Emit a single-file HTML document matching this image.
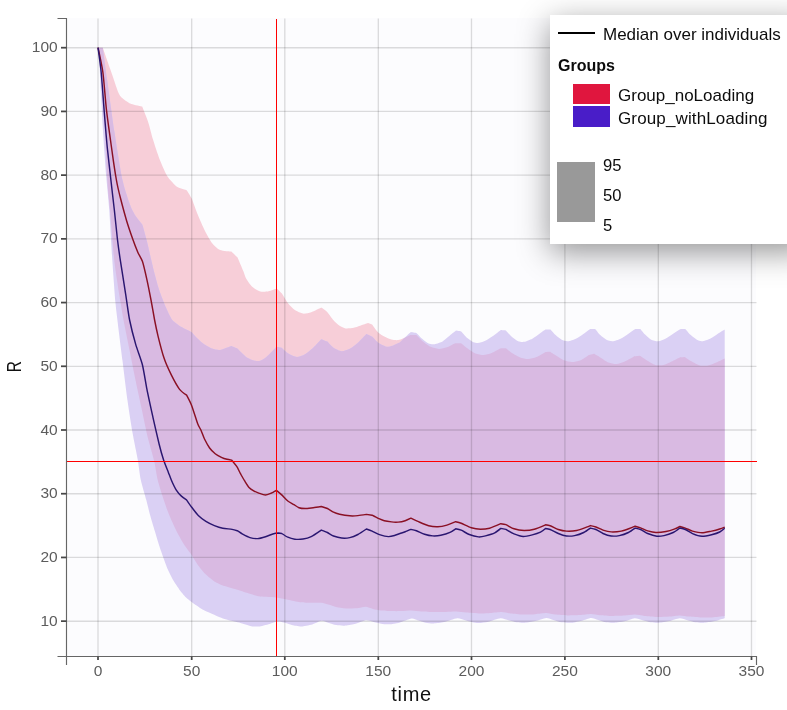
<!DOCTYPE html>
<html lang="en">
<head>
<meta charset="utf-8">
<title>Prediction distribution: R vs time</title>
<style>
html,body{margin:0;padding:0;background:#fff;}
body{width:787px;height:710px;position:relative;overflow:hidden;font-family:"Liberation Sans",sans-serif;}
#chart{position:absolute;left:0;top:0;display:block;}
#legend{position:absolute;left:550px;top:15px;width:260px;height:229.3px;background:#fff;box-shadow:0 8px 30px rgba(0,0,0,.42);color:#0c0c0c;font-size:17px;}
#legend div,#legend span{position:absolute;white-space:nowrap;}
.lbl{line-height:20px;}
.sw{display:block;}
</style>
</head>
<body>
<svg id="chart" width="787" height="710" viewBox="0 0 787 710">
<rect x="68" y="18" width="688" height="638" fill="#fcfcfe"/>
<defs><clipPath id="cb"><path d="M98.0 47.7C98.0 47.7 102.5 47.7 102.5 47.7C102.5 47.7 102.8 47.8 102.8 47.8C102.8 47.8 105.9 70.9 107.3 80.7C108.7 90.5 112.6 119.9 114.4 131.5C116.2 143.1 120.6 171.3 122.5 180.0C124.4 188.7 129.0 202.0 130.7 206.4C132.4 210.8 135.4 215.5 136.8 217.6C138.2 219.7 142.4 224.7 142.4 224.7C142.4 224.7 145.7 236.0 146.9 241.0C148.1 246.0 151.6 261.7 153.0 267.4C154.4 273.1 157.6 285.1 159.1 289.8C160.6 294.5 164.7 304.6 166.2 308.1C167.7 311.6 170.5 317.8 172.3 320.0C174.1 322.2 179.2 325.7 181.5 327.1C183.8 328.5 191.6 332.2 191.6 332.2C191.6 332.2 199.4 340.5 201.8 342.4C204.2 344.3 209.9 347.6 212.0 348.5C214.1 349.4 217.8 350.2 220.1 349.9C222.4 349.6 231.3 346.0 231.3 346.0C231.3 346.0 237.4 348.5 237.4 348.5C237.4 348.5 242.5 353.6 243.5 354.6C244.5 355.6 245.1 356.3 246.1 356.9C247.1 357.5 250.7 359.4 252.2 359.9C253.7 360.4 257.6 361.4 259.3 361.0C261.0 360.6 264.4 358.6 266.4 356.9C268.4 355.2 276.6 346.7 276.6 346.7C276.6 346.7 281.7 347.7 281.7 347.7C281.7 347.7 287.0 352.7 288.8 353.8C290.6 354.9 295.0 356.9 296.9 356.9C298.8 356.9 303.1 355.3 305.0 354.2C306.9 353.1 311.3 349.4 313.2 347.7C315.1 345.9 321.3 339.2 321.3 339.2C321.3 339.2 327.4 341.6 327.4 341.6C327.4 341.6 331.8 346.6 333.5 347.7C335.2 348.8 339.7 351.1 341.6 351.2C343.5 351.3 347.9 349.8 349.8 348.8C351.7 347.8 356.0 344.4 357.9 342.7C359.8 341.0 366.4 333.9 366.4 333.9C366.4 333.9 372.1 336.6 372.1 336.6C372.1 336.6 376.5 341.5 378.2 342.7C379.9 343.9 384.7 346.3 386.4 346.7C388.1 347.1 390.9 346.2 392.5 345.7C394.1 345.2 398.6 343.2 400.0 342.3C401.4 341.4 402.9 339.3 404.2 338.1C405.5 336.9 410.9 332.0 410.9 332.0C410.9 332.0 416.4 333.0 416.4 333.0C416.4 333.0 421.1 337.9 422.5 339.1C423.9 340.3 427.2 343.0 428.6 343.6C430.0 344.2 433.0 344.5 434.7 344.2C436.4 343.9 441.0 342.3 442.9 341.2C444.8 340.1 449.5 335.8 451.0 334.6C452.5 333.4 456.1 330.6 456.1 330.6C456.1 330.6 461.2 331.4 461.2 331.4C461.2 331.4 465.9 336.8 467.3 338.1C468.7 339.4 472.0 341.7 473.4 342.2C474.8 342.7 477.8 343.1 479.5 342.8C481.2 342.5 485.7 340.5 487.6 339.5C489.5 338.5 494.2 335.1 495.7 334.0C497.2 332.9 500.8 330.0 500.8 330.0C500.8 330.0 505.9 330.4 505.9 330.4C505.9 330.4 510.6 335.8 512.0 337.1C513.4 338.4 516.7 340.7 518.1 341.2C519.5 341.7 522.5 342.1 524.2 341.8C525.9 341.5 530.4 339.7 532.3 338.7C534.2 337.7 539.0 334.1 540.5 333.0C542.0 331.9 545.5 329.6 545.5 329.6C545.5 329.6 550.5 329.6 550.5 329.6C550.5 329.6 554.3 333.9 555.6 335.1C556.9 336.3 560.3 339.0 561.7 339.7C563.1 340.4 566.1 341.3 567.8 341.2C569.5 341.1 574.1 339.6 576.0 338.7C577.9 337.8 582.4 334.5 584.1 333.4C585.8 332.3 590.2 329.0 590.2 329.0C590.2 329.0 595.2 329.0 595.2 329.0C595.2 329.0 599.0 333.9 600.3 335.1C601.6 336.3 605.0 339.0 606.4 339.7C607.8 340.4 610.8 341.3 612.5 341.2C614.2 341.1 618.8 339.6 620.7 338.7C622.6 337.8 627.1 334.5 628.8 333.4C630.5 332.3 635.3 329.0 635.3 329.0C635.3 329.0 640.4 329.0 640.4 329.0C640.4 329.0 643.8 333.4 645.1 334.6C646.4 335.8 649.7 338.9 651.2 339.7C652.7 340.5 656.6 341.3 658.3 341.2C660.0 341.1 663.6 339.6 665.4 338.7C667.2 337.8 671.7 334.5 673.5 333.4C675.3 332.3 680.6 329.0 680.6 329.0C680.6 329.0 685.3 329.0 685.3 329.0C685.3 329.0 689.4 333.9 690.8 335.1C692.2 336.3 695.6 339.0 696.9 339.7C698.2 340.4 700.5 341.3 702.0 341.2C703.5 341.1 708.2 339.6 710.1 338.7C712.0 337.8 716.5 334.5 718.2 333.4C719.9 332.3 724.7 329.4 724.7 329.4L724.7 618.2C724.7 618.2 716.2 620.8 713.8 621.3C711.3 621.8 705.8 622.6 703.7 622.7C701.6 622.8 697.4 622.6 695.5 622.3C693.6 622.0 689.2 620.8 687.4 620.3C685.6 619.8 681.8 618.1 679.7 618.2C677.6 618.3 671.5 620.6 669.1 621.1C666.7 621.6 661.1 622.6 659.0 622.7C656.9 622.8 652.7 622.6 650.8 622.3C648.9 622.0 644.6 620.8 642.7 620.3C640.8 619.8 636.7 618.1 634.6 618.2C632.5 618.3 626.9 620.8 624.5 621.3C622.1 621.8 616.4 622.6 614.3 622.7C612.2 622.8 608.1 622.6 606.2 622.3C604.3 622.0 599.9 620.5 598.1 620.0C596.3 619.5 592.9 617.9 591.0 618.0C589.1 618.1 584.1 620.2 581.8 620.7C579.5 621.2 574.0 622.5 571.6 622.7C569.2 622.9 563.6 622.6 561.5 622.3C559.4 622.0 555.1 620.5 553.3 620.0C551.5 619.5 548.3 617.9 546.2 618.0C544.1 618.1 537.6 620.6 535.1 621.1C532.6 621.6 527.0 622.6 524.9 622.7C522.8 622.8 518.7 622.6 516.8 622.3C514.9 622.0 510.5 620.8 508.6 620.3C506.7 619.8 502.9 618.0 500.5 618.2C498.1 618.4 490.8 621.1 488.3 621.7C485.8 622.3 480.8 622.9 479.0 623.0C477.2 623.1 474.2 622.6 472.5 622.3C470.8 621.9 466.1 620.5 464.3 620.0C462.5 619.5 459.6 618.0 457.2 618.2C454.8 618.4 446.7 621.5 444.0 622.1C441.3 622.7 435.9 623.4 433.8 623.5C431.7 623.6 427.6 623.1 425.7 622.7C423.8 622.3 419.3 620.8 417.6 620.3C415.9 619.8 413.6 618.3 411.5 618.6C409.4 618.9 401.9 622.0 399.3 622.7C396.7 623.4 391.2 624.2 389.1 624.3C387.0 624.4 382.9 624.0 381.0 623.7C379.1 623.4 374.7 622.1 372.9 621.7C371.1 621.3 367.8 620.0 365.7 620.3C363.6 620.6 357.1 623.5 354.6 624.1C352.1 624.7 346.5 625.6 344.4 625.7C342.3 625.8 338.2 625.5 336.3 625.1C334.4 624.8 329.8 623.2 328.1 622.7C326.4 622.2 323.3 620.6 321.5 620.8C319.7 621.0 314.6 623.8 312.3 624.5C310.0 625.2 302.1 626.6 302.1 626.6C302.1 626.6 296.1 626.0 294.0 625.5C291.9 625.0 285.7 623.0 283.8 622.5C281.9 622.0 279.4 621.3 277.7 621.5C276.0 621.7 271.7 623.3 269.6 623.9C267.5 624.5 259.5 626.6 259.5 626.6C259.5 626.6 253.7 626.7 251.3 626.2C248.9 625.7 242.4 623.4 239.1 622.5C235.8 621.6 226.7 619.7 222.9 618.4C219.1 617.1 209.1 612.6 206.6 611.5C204.1 610.4 203.0 609.9 201.3 608.8C199.6 607.7 193.8 603.7 192.0 602.3C190.2 600.9 187.2 598.6 185.8 597.2C184.4 595.8 181.0 591.8 179.6 589.9C178.2 588.0 174.8 582.9 173.4 580.6C172.0 578.3 169.2 572.5 168.0 569.8C166.8 567.1 164.3 560.1 163.3 557.4C162.3 554.7 160.5 549.6 159.5 546.5C158.5 543.4 155.9 534.6 154.8 531.0C153.7 527.4 151.2 519.1 150.2 515.5C149.2 511.9 147.4 504.1 146.3 500.0C145.2 495.9 141.8 484.7 140.8 480.0C139.8 475.3 138.7 465.4 137.8 460.0C136.9 454.6 133.9 440.6 132.7 433.8C131.5 427.0 128.8 409.8 127.6 401.3C126.4 392.8 123.7 370.2 122.5 360.7C121.3 351.2 118.2 326.8 117.4 320.0C116.6 313.2 116.0 308.8 115.4 302.0C114.8 295.2 113.1 272.0 112.4 261.3C111.7 250.6 110.0 220.3 109.3 210.5C108.6 200.7 107.0 185.4 106.3 177.0C105.6 168.6 103.9 144.7 103.5 138.6C103.1 132.5 102.8 127.8 102.6 124.5C102.4 121.2 102.1 114.5 101.9 110.4C101.7 106.3 101.0 94.2 100.7 89.3C100.4 84.4 100.0 73.1 99.7 68.2C99.4 63.3 98.0 47.7 98.0 47.7Z"/></clipPath></defs>
<path d="M98.0 47.7C98.0 47.7 102.5 47.7 102.5 47.7C102.5 47.7 102.8 47.8 102.8 47.8C102.8 47.8 108.4 63.9 110.3 69.2C112.2 74.5 117.2 90.0 118.8 93.5C120.4 97.0 122.2 98.0 123.7 99.2C125.2 100.4 129.2 103.2 131.4 104.1C133.6 105.0 142.2 106.6 142.2 106.6C142.2 106.6 146.6 117.5 147.9 121.3C149.2 125.1 151.7 135.3 153.0 139.6C154.3 143.9 157.6 153.9 159.1 157.9C160.6 161.9 164.9 171.6 166.2 174.2C167.5 176.8 169.0 178.5 170.3 180.0C171.6 181.5 175.5 185.9 177.4 187.1C179.3 188.3 186.6 190.2 186.6 190.2C186.6 190.2 190.3 195.5 191.6 198.3C192.9 201.1 196.1 210.8 197.7 214.6C199.3 218.4 203.2 227.5 204.9 230.8C206.6 234.1 210.2 240.7 212.0 243.0C213.8 245.3 217.8 249.1 220.1 250.1C222.4 251.1 231.3 251.6 231.3 251.6C231.3 251.6 237.4 257.3 237.4 257.3C237.4 257.3 242.5 269.0 243.5 271.5C244.5 274.0 245.1 276.8 246.1 278.6C247.1 280.4 250.5 285.3 252.2 286.8C253.9 288.3 258.4 290.9 260.3 291.4C262.2 291.9 266.6 291.6 268.5 291.2C270.4 290.8 276.6 288.4 276.6 288.4C276.6 288.4 280.4 291.6 281.7 293.3C283.0 295.0 286.3 301.0 287.8 303.0C289.3 305.0 293.1 308.9 294.9 310.1C296.7 311.3 301.1 313.4 303.0 313.6C304.9 313.8 309.1 312.9 311.2 312.2C313.3 311.5 321.3 307.5 321.3 307.5C321.3 307.5 326.0 310.7 327.4 312.2C328.8 313.7 332.1 318.7 333.5 320.3C334.9 321.9 338.2 324.9 339.6 325.8C341.0 326.7 344.0 328.2 345.7 328.4C347.4 328.6 351.9 328.2 353.8 327.8C355.7 327.4 360.3 325.6 362.0 325.0C363.7 324.4 368.1 322.9 368.1 322.9C368.1 322.9 372.1 324.4 372.1 324.4C372.1 324.4 376.8 331.1 378.2 332.5C379.6 333.9 382.7 335.8 384.3 336.6C385.9 337.4 389.9 339.2 391.5 339.6C393.1 340.0 396.6 340.3 398.1 340.1C399.6 339.9 402.8 338.7 404.2 338.1C405.6 337.5 410.3 335.1 410.3 335.1C410.3 335.1 416.4 335.1 416.4 335.1C416.4 335.1 420.8 339.8 422.5 341.2C424.2 342.6 428.8 345.9 430.7 346.8C432.6 347.7 436.9 348.8 438.8 348.9C440.7 349.0 445.0 348.0 446.9 347.3C448.8 346.6 455.1 343.2 455.1 343.2C455.1 343.2 461.2 343.2 461.2 343.2C461.2 343.2 465.6 347.1 467.3 348.3C469.0 349.5 473.5 352.6 475.4 353.4C477.3 354.2 481.6 355.0 483.5 355.0C485.4 355.0 489.7 353.8 491.7 353.0C493.7 352.2 500.8 348.3 500.8 348.3C500.8 348.3 505.9 348.3 505.9 348.3C505.9 348.3 510.3 351.9 512.0 353.0C513.7 354.1 518.2 356.7 520.1 357.4C522.0 358.1 526.3 359.0 528.2 359.0C530.1 359.0 534.4 357.8 536.4 357.0C538.4 356.2 545.5 351.9 545.5 351.9C545.5 351.9 550.0 351.7 550.0 351.7C550.0 351.7 554.4 354.5 556.0 355.5C557.6 356.5 562.1 359.5 564.0 360.3C565.9 361.1 570.1 362.0 572.0 362.0C573.9 362.0 578.1 361.3 580.0 360.5C581.9 359.7 588.1 355.4 588.1 355.4C588.1 355.4 594.2 353.8 594.2 353.8C594.2 353.8 598.6 356.4 600.3 357.4C602.0 358.4 606.6 361.7 608.5 362.5C610.4 363.3 614.7 364.2 616.6 364.1C618.5 364.0 622.7 362.4 624.7 361.5C626.7 360.6 633.9 356.4 633.9 356.4C633.9 356.4 640.0 355.8 640.0 355.8C640.0 355.8 645.3 359.4 647.1 360.5C648.9 361.6 653.3 364.4 655.2 364.9C657.1 365.4 661.5 365.5 663.4 365.1C665.3 364.7 669.6 362.4 671.5 361.5C673.4 360.6 679.6 357.4 679.6 357.4C679.6 357.4 684.7 357.0 684.7 357.0C684.7 357.0 690.0 360.5 691.8 361.5C693.6 362.5 698.0 365.0 699.9 365.5C701.8 366.0 706.2 365.9 708.1 365.5C710.0 365.1 714.3 363.3 716.2 362.5C718.1 361.7 724.7 358.4 724.7 358.4L724.7 616.0C724.7 616.0 716.5 617.0 713.8 617.2C711.1 617.4 704.4 617.7 701.6 617.6C698.8 617.5 692.0 616.9 689.4 616.6C686.8 616.3 682.1 615.4 679.7 615.4C677.3 615.4 671.8 616.4 669.1 616.6C666.4 616.8 659.7 617.1 656.9 617.0C654.1 616.9 647.3 616.3 644.7 616.0C642.1 615.7 637.0 614.6 634.6 614.6C632.2 614.6 627.0 615.4 624.4 615.6C621.8 615.8 615.1 616.0 612.3 616.0C609.5 616.0 602.6 615.4 600.1 615.2C597.6 615.0 593.4 613.9 591.0 613.9C588.6 613.9 582.5 614.8 579.8 615.0C577.1 615.2 570.4 615.4 567.6 615.4C564.8 615.4 557.9 614.9 555.4 614.6C552.9 614.3 548.6 613.1 546.2 613.1C543.8 613.1 537.8 614.0 535.1 614.2C532.4 614.4 525.7 614.7 522.9 614.6C520.1 614.5 513.2 613.8 510.7 613.5C508.2 613.2 503.9 612.1 501.5 612.1C499.1 612.1 492.8 612.9 490.3 613.1C487.8 613.3 483.0 613.6 480.2 613.5C477.4 613.4 469.2 612.7 466.4 612.5C463.6 612.3 458.6 611.6 456.2 611.5C453.8 611.4 448.6 611.8 446.0 611.9C443.4 612.0 436.6 612.1 433.8 612.1C431.0 612.1 424.2 611.7 421.6 611.5C419.0 611.3 413.9 610.5 411.5 610.5C409.1 610.5 403.7 611.0 401.3 611.1C398.9 611.2 393.6 611.2 391.2 611.1C388.8 611.0 383.1 610.8 381.0 610.5C378.9 610.2 374.7 609.3 372.9 608.9C371.1 608.5 367.4 606.9 365.7 606.8C364.0 606.7 360.6 607.9 358.6 608.1C356.6 608.3 350.9 608.6 348.5 608.5C346.1 608.4 340.7 607.9 338.3 607.4C335.9 606.9 330.1 604.9 328.1 604.4C326.1 603.9 323.3 603.0 321.5 602.8C319.7 602.6 314.8 602.9 312.3 602.8C309.8 602.7 302.9 602.6 300.1 602.2C297.3 601.8 290.5 600.2 287.9 599.7C285.3 599.2 281.0 598.1 277.7 597.7C274.4 597.3 263.4 597.1 260.0 596.6C256.6 596.1 251.0 594.0 248.2 593.2C245.4 592.4 239.1 590.3 236.3 589.5C233.5 588.7 227.1 587.0 224.5 586.1C221.9 585.2 216.7 582.8 214.4 581.4C212.1 580.0 207.1 575.8 205.1 573.8C203.1 571.8 199.1 566.7 197.5 564.5C195.9 562.3 193.1 557.2 191.5 554.8C189.9 552.4 185.7 547.0 183.9 544.2C182.1 541.4 178.1 534.2 176.3 530.7C174.5 527.2 170.3 517.7 168.7 513.8C167.1 509.9 164.1 500.8 162.8 496.9C161.5 493.0 158.7 484.1 157.7 480.0C156.7 475.9 155.4 466.4 154.3 461.5C153.2 456.6 149.4 444.0 147.9 437.9C146.4 431.8 143.2 416.0 141.8 409.4C140.4 402.8 137.1 387.9 135.7 381.0C134.3 374.1 131.0 357.6 129.6 350.5C128.2 343.4 124.6 325.7 123.5 320.0C122.4 314.3 121.6 308.8 120.5 302.0C119.4 295.2 115.6 272.0 114.4 261.3C113.2 250.6 110.8 219.5 110.0 210.0C109.2 200.5 108.2 195.2 107.3 180.0C106.4 164.8 103.6 95.4 102.5 80.0C101.4 64.6 98.0 47.7 98.0 47.7Z" fill="#f7ced8"/>
<path d="M98.0 47.7C98.0 47.7 102.5 47.7 102.5 47.7C102.5 47.7 102.8 47.8 102.8 47.8C102.8 47.8 105.9 70.9 107.3 80.7C108.7 90.5 112.6 119.9 114.4 131.5C116.2 143.1 120.6 171.3 122.5 180.0C124.4 188.7 129.0 202.0 130.7 206.4C132.4 210.8 135.4 215.5 136.8 217.6C138.2 219.7 142.4 224.7 142.4 224.7C142.4 224.7 145.7 236.0 146.9 241.0C148.1 246.0 151.6 261.7 153.0 267.4C154.4 273.1 157.6 285.1 159.1 289.8C160.6 294.5 164.7 304.6 166.2 308.1C167.7 311.6 170.5 317.8 172.3 320.0C174.1 322.2 179.2 325.7 181.5 327.1C183.8 328.5 191.6 332.2 191.6 332.2C191.6 332.2 199.4 340.5 201.8 342.4C204.2 344.3 209.9 347.6 212.0 348.5C214.1 349.4 217.8 350.2 220.1 349.9C222.4 349.6 231.3 346.0 231.3 346.0C231.3 346.0 237.4 348.5 237.4 348.5C237.4 348.5 242.5 353.6 243.5 354.6C244.5 355.6 245.1 356.3 246.1 356.9C247.1 357.5 250.7 359.4 252.2 359.9C253.7 360.4 257.6 361.4 259.3 361.0C261.0 360.6 264.4 358.6 266.4 356.9C268.4 355.2 276.6 346.7 276.6 346.7C276.6 346.7 281.7 347.7 281.7 347.7C281.7 347.7 287.0 352.7 288.8 353.8C290.6 354.9 295.0 356.9 296.9 356.9C298.8 356.9 303.1 355.3 305.0 354.2C306.9 353.1 311.3 349.4 313.2 347.7C315.1 345.9 321.3 339.2 321.3 339.2C321.3 339.2 327.4 341.6 327.4 341.6C327.4 341.6 331.8 346.6 333.5 347.7C335.2 348.8 339.7 351.1 341.6 351.2C343.5 351.3 347.9 349.8 349.8 348.8C351.7 347.8 356.0 344.4 357.9 342.7C359.8 341.0 366.4 333.9 366.4 333.9C366.4 333.9 372.1 336.6 372.1 336.6C372.1 336.6 376.5 341.5 378.2 342.7C379.9 343.9 384.7 346.3 386.4 346.7C388.1 347.1 390.9 346.2 392.5 345.7C394.1 345.2 398.6 343.2 400.0 342.3C401.4 341.4 402.9 339.3 404.2 338.1C405.5 336.9 410.9 332.0 410.9 332.0C410.9 332.0 416.4 333.0 416.4 333.0C416.4 333.0 421.1 337.9 422.5 339.1C423.9 340.3 427.2 343.0 428.6 343.6C430.0 344.2 433.0 344.5 434.7 344.2C436.4 343.9 441.0 342.3 442.9 341.2C444.8 340.1 449.5 335.8 451.0 334.6C452.5 333.4 456.1 330.6 456.1 330.6C456.1 330.6 461.2 331.4 461.2 331.4C461.2 331.4 465.9 336.8 467.3 338.1C468.7 339.4 472.0 341.7 473.4 342.2C474.8 342.7 477.8 343.1 479.5 342.8C481.2 342.5 485.7 340.5 487.6 339.5C489.5 338.5 494.2 335.1 495.7 334.0C497.2 332.9 500.8 330.0 500.8 330.0C500.8 330.0 505.9 330.4 505.9 330.4C505.9 330.4 510.6 335.8 512.0 337.1C513.4 338.4 516.7 340.7 518.1 341.2C519.5 341.7 522.5 342.1 524.2 341.8C525.9 341.5 530.4 339.7 532.3 338.7C534.2 337.7 539.0 334.1 540.5 333.0C542.0 331.9 545.5 329.6 545.5 329.6C545.5 329.6 550.5 329.6 550.5 329.6C550.5 329.6 554.3 333.9 555.6 335.1C556.9 336.3 560.3 339.0 561.7 339.7C563.1 340.4 566.1 341.3 567.8 341.2C569.5 341.1 574.1 339.6 576.0 338.7C577.9 337.8 582.4 334.5 584.1 333.4C585.8 332.3 590.2 329.0 590.2 329.0C590.2 329.0 595.2 329.0 595.2 329.0C595.2 329.0 599.0 333.9 600.3 335.1C601.6 336.3 605.0 339.0 606.4 339.7C607.8 340.4 610.8 341.3 612.5 341.2C614.2 341.1 618.8 339.6 620.7 338.7C622.6 337.8 627.1 334.5 628.8 333.4C630.5 332.3 635.3 329.0 635.3 329.0C635.3 329.0 640.4 329.0 640.4 329.0C640.4 329.0 643.8 333.4 645.1 334.6C646.4 335.8 649.7 338.9 651.2 339.7C652.7 340.5 656.6 341.3 658.3 341.2C660.0 341.1 663.6 339.6 665.4 338.7C667.2 337.8 671.7 334.5 673.5 333.4C675.3 332.3 680.6 329.0 680.6 329.0C680.6 329.0 685.3 329.0 685.3 329.0C685.3 329.0 689.4 333.9 690.8 335.1C692.2 336.3 695.6 339.0 696.9 339.7C698.2 340.4 700.5 341.3 702.0 341.2C703.5 341.1 708.2 339.6 710.1 338.7C712.0 337.8 716.5 334.5 718.2 333.4C719.9 332.3 724.7 329.4 724.7 329.4L724.7 618.2C724.7 618.2 716.2 620.8 713.8 621.3C711.3 621.8 705.8 622.6 703.7 622.7C701.6 622.8 697.4 622.6 695.5 622.3C693.6 622.0 689.2 620.8 687.4 620.3C685.6 619.8 681.8 618.1 679.7 618.2C677.6 618.3 671.5 620.6 669.1 621.1C666.7 621.6 661.1 622.6 659.0 622.7C656.9 622.8 652.7 622.6 650.8 622.3C648.9 622.0 644.6 620.8 642.7 620.3C640.8 619.8 636.7 618.1 634.6 618.2C632.5 618.3 626.9 620.8 624.5 621.3C622.1 621.8 616.4 622.6 614.3 622.7C612.2 622.8 608.1 622.6 606.2 622.3C604.3 622.0 599.9 620.5 598.1 620.0C596.3 619.5 592.9 617.9 591.0 618.0C589.1 618.1 584.1 620.2 581.8 620.7C579.5 621.2 574.0 622.5 571.6 622.7C569.2 622.9 563.6 622.6 561.5 622.3C559.4 622.0 555.1 620.5 553.3 620.0C551.5 619.5 548.3 617.9 546.2 618.0C544.1 618.1 537.6 620.6 535.1 621.1C532.6 621.6 527.0 622.6 524.9 622.7C522.8 622.8 518.7 622.6 516.8 622.3C514.9 622.0 510.5 620.8 508.6 620.3C506.7 619.8 502.9 618.0 500.5 618.2C498.1 618.4 490.8 621.1 488.3 621.7C485.8 622.3 480.8 622.9 479.0 623.0C477.2 623.1 474.2 622.6 472.5 622.3C470.8 621.9 466.1 620.5 464.3 620.0C462.5 619.5 459.6 618.0 457.2 618.2C454.8 618.4 446.7 621.5 444.0 622.1C441.3 622.7 435.9 623.4 433.8 623.5C431.7 623.6 427.6 623.1 425.7 622.7C423.8 622.3 419.3 620.8 417.6 620.3C415.9 619.8 413.6 618.3 411.5 618.6C409.4 618.9 401.9 622.0 399.3 622.7C396.7 623.4 391.2 624.2 389.1 624.3C387.0 624.4 382.9 624.0 381.0 623.7C379.1 623.4 374.7 622.1 372.9 621.7C371.1 621.3 367.8 620.0 365.7 620.3C363.6 620.6 357.1 623.5 354.6 624.1C352.1 624.7 346.5 625.6 344.4 625.7C342.3 625.8 338.2 625.5 336.3 625.1C334.4 624.8 329.8 623.2 328.1 622.7C326.4 622.2 323.3 620.6 321.5 620.8C319.7 621.0 314.6 623.8 312.3 624.5C310.0 625.2 302.1 626.6 302.1 626.6C302.1 626.6 296.1 626.0 294.0 625.5C291.9 625.0 285.7 623.0 283.8 622.5C281.9 622.0 279.4 621.3 277.7 621.5C276.0 621.7 271.7 623.3 269.6 623.9C267.5 624.5 259.5 626.6 259.5 626.6C259.5 626.6 253.7 626.7 251.3 626.2C248.9 625.7 242.4 623.4 239.1 622.5C235.8 621.6 226.7 619.7 222.9 618.4C219.1 617.1 209.1 612.6 206.6 611.5C204.1 610.4 203.0 609.9 201.3 608.8C199.6 607.7 193.8 603.7 192.0 602.3C190.2 600.9 187.2 598.6 185.8 597.2C184.4 595.8 181.0 591.8 179.6 589.9C178.2 588.0 174.8 582.9 173.4 580.6C172.0 578.3 169.2 572.5 168.0 569.8C166.8 567.1 164.3 560.1 163.3 557.4C162.3 554.7 160.5 549.6 159.5 546.5C158.5 543.4 155.9 534.6 154.8 531.0C153.7 527.4 151.2 519.1 150.2 515.5C149.2 511.9 147.4 504.1 146.3 500.0C145.2 495.9 141.8 484.7 140.8 480.0C139.8 475.3 138.7 465.4 137.8 460.0C136.9 454.6 133.9 440.6 132.7 433.8C131.5 427.0 128.8 409.8 127.6 401.3C126.4 392.8 123.7 370.2 122.5 360.7C121.3 351.2 118.2 326.8 117.4 320.0C116.6 313.2 116.0 308.8 115.4 302.0C114.8 295.2 113.1 272.0 112.4 261.3C111.7 250.6 110.0 220.3 109.3 210.5C108.6 200.7 107.0 185.4 106.3 177.0C105.6 168.6 103.9 144.7 103.5 138.6C103.1 132.5 102.8 127.8 102.6 124.5C102.4 121.2 102.1 114.5 101.9 110.4C101.7 106.3 101.0 94.2 100.7 89.3C100.4 84.4 100.0 73.1 99.7 68.2C99.4 63.3 98.0 47.7 98.0 47.7Z" fill="#dad0f4"/>
<path d="M98.0 47.7C98.0 47.7 102.5 47.7 102.5 47.7C102.5 47.7 102.8 47.8 102.8 47.8C102.8 47.8 108.4 63.9 110.3 69.2C112.2 74.5 117.2 90.0 118.8 93.5C120.4 97.0 122.2 98.0 123.7 99.2C125.2 100.4 129.2 103.2 131.4 104.1C133.6 105.0 142.2 106.6 142.2 106.6C142.2 106.6 146.6 117.5 147.9 121.3C149.2 125.1 151.7 135.3 153.0 139.6C154.3 143.9 157.6 153.9 159.1 157.9C160.6 161.9 164.9 171.6 166.2 174.2C167.5 176.8 169.0 178.5 170.3 180.0C171.6 181.5 175.5 185.9 177.4 187.1C179.3 188.3 186.6 190.2 186.6 190.2C186.6 190.2 190.3 195.5 191.6 198.3C192.9 201.1 196.1 210.8 197.7 214.6C199.3 218.4 203.2 227.5 204.9 230.8C206.6 234.1 210.2 240.7 212.0 243.0C213.8 245.3 217.8 249.1 220.1 250.1C222.4 251.1 231.3 251.6 231.3 251.6C231.3 251.6 237.4 257.3 237.4 257.3C237.4 257.3 242.5 269.0 243.5 271.5C244.5 274.0 245.1 276.8 246.1 278.6C247.1 280.4 250.5 285.3 252.2 286.8C253.9 288.3 258.4 290.9 260.3 291.4C262.2 291.9 266.6 291.6 268.5 291.2C270.4 290.8 276.6 288.4 276.6 288.4C276.6 288.4 280.4 291.6 281.7 293.3C283.0 295.0 286.3 301.0 287.8 303.0C289.3 305.0 293.1 308.9 294.9 310.1C296.7 311.3 301.1 313.4 303.0 313.6C304.9 313.8 309.1 312.9 311.2 312.2C313.3 311.5 321.3 307.5 321.3 307.5C321.3 307.5 326.0 310.7 327.4 312.2C328.8 313.7 332.1 318.7 333.5 320.3C334.9 321.9 338.2 324.9 339.6 325.8C341.0 326.7 344.0 328.2 345.7 328.4C347.4 328.6 351.9 328.2 353.8 327.8C355.7 327.4 360.3 325.6 362.0 325.0C363.7 324.4 368.1 322.9 368.1 322.9C368.1 322.9 372.1 324.4 372.1 324.4C372.1 324.4 376.8 331.1 378.2 332.5C379.6 333.9 382.7 335.8 384.3 336.6C385.9 337.4 389.9 339.2 391.5 339.6C393.1 340.0 396.6 340.3 398.1 340.1C399.6 339.9 402.8 338.7 404.2 338.1C405.6 337.5 410.3 335.1 410.3 335.1C410.3 335.1 416.4 335.1 416.4 335.1C416.4 335.1 420.8 339.8 422.5 341.2C424.2 342.6 428.8 345.9 430.7 346.8C432.6 347.7 436.9 348.8 438.8 348.9C440.7 349.0 445.0 348.0 446.9 347.3C448.8 346.6 455.1 343.2 455.1 343.2C455.1 343.2 461.2 343.2 461.2 343.2C461.2 343.2 465.6 347.1 467.3 348.3C469.0 349.5 473.5 352.6 475.4 353.4C477.3 354.2 481.6 355.0 483.5 355.0C485.4 355.0 489.7 353.8 491.7 353.0C493.7 352.2 500.8 348.3 500.8 348.3C500.8 348.3 505.9 348.3 505.9 348.3C505.9 348.3 510.3 351.9 512.0 353.0C513.7 354.1 518.2 356.7 520.1 357.4C522.0 358.1 526.3 359.0 528.2 359.0C530.1 359.0 534.4 357.8 536.4 357.0C538.4 356.2 545.5 351.9 545.5 351.9C545.5 351.9 550.0 351.7 550.0 351.7C550.0 351.7 554.4 354.5 556.0 355.5C557.6 356.5 562.1 359.5 564.0 360.3C565.9 361.1 570.1 362.0 572.0 362.0C573.9 362.0 578.1 361.3 580.0 360.5C581.9 359.7 588.1 355.4 588.1 355.4C588.1 355.4 594.2 353.8 594.2 353.8C594.2 353.8 598.6 356.4 600.3 357.4C602.0 358.4 606.6 361.7 608.5 362.5C610.4 363.3 614.7 364.2 616.6 364.1C618.5 364.0 622.7 362.4 624.7 361.5C626.7 360.6 633.9 356.4 633.9 356.4C633.9 356.4 640.0 355.8 640.0 355.8C640.0 355.8 645.3 359.4 647.1 360.5C648.9 361.6 653.3 364.4 655.2 364.9C657.1 365.4 661.5 365.5 663.4 365.1C665.3 364.7 669.6 362.4 671.5 361.5C673.4 360.6 679.6 357.4 679.6 357.4C679.6 357.4 684.7 357.0 684.7 357.0C684.7 357.0 690.0 360.5 691.8 361.5C693.6 362.5 698.0 365.0 699.9 365.5C701.8 366.0 706.2 365.9 708.1 365.5C710.0 365.1 714.3 363.3 716.2 362.5C718.1 361.7 724.7 358.4 724.7 358.4L724.7 616.0C724.7 616.0 716.5 617.0 713.8 617.2C711.1 617.4 704.4 617.7 701.6 617.6C698.8 617.5 692.0 616.9 689.4 616.6C686.8 616.3 682.1 615.4 679.7 615.4C677.3 615.4 671.8 616.4 669.1 616.6C666.4 616.8 659.7 617.1 656.9 617.0C654.1 616.9 647.3 616.3 644.7 616.0C642.1 615.7 637.0 614.6 634.6 614.6C632.2 614.6 627.0 615.4 624.4 615.6C621.8 615.8 615.1 616.0 612.3 616.0C609.5 616.0 602.6 615.4 600.1 615.2C597.6 615.0 593.4 613.9 591.0 613.9C588.6 613.9 582.5 614.8 579.8 615.0C577.1 615.2 570.4 615.4 567.6 615.4C564.8 615.4 557.9 614.9 555.4 614.6C552.9 614.3 548.6 613.1 546.2 613.1C543.8 613.1 537.8 614.0 535.1 614.2C532.4 614.4 525.7 614.7 522.9 614.6C520.1 614.5 513.2 613.8 510.7 613.5C508.2 613.2 503.9 612.1 501.5 612.1C499.1 612.1 492.8 612.9 490.3 613.1C487.8 613.3 483.0 613.6 480.2 613.5C477.4 613.4 469.2 612.7 466.4 612.5C463.6 612.3 458.6 611.6 456.2 611.5C453.8 611.4 448.6 611.8 446.0 611.9C443.4 612.0 436.6 612.1 433.8 612.1C431.0 612.1 424.2 611.7 421.6 611.5C419.0 611.3 413.9 610.5 411.5 610.5C409.1 610.5 403.7 611.0 401.3 611.1C398.9 611.2 393.6 611.2 391.2 611.1C388.8 611.0 383.1 610.8 381.0 610.5C378.9 610.2 374.7 609.3 372.9 608.9C371.1 608.5 367.4 606.9 365.7 606.8C364.0 606.7 360.6 607.9 358.6 608.1C356.6 608.3 350.9 608.6 348.5 608.5C346.1 608.4 340.7 607.9 338.3 607.4C335.9 606.9 330.1 604.9 328.1 604.4C326.1 603.9 323.3 603.0 321.5 602.8C319.7 602.6 314.8 602.9 312.3 602.8C309.8 602.7 302.9 602.6 300.1 602.2C297.3 601.8 290.5 600.2 287.9 599.7C285.3 599.2 281.0 598.1 277.7 597.7C274.4 597.3 263.4 597.1 260.0 596.6C256.6 596.1 251.0 594.0 248.2 593.2C245.4 592.4 239.1 590.3 236.3 589.5C233.5 588.7 227.1 587.0 224.5 586.1C221.9 585.2 216.7 582.8 214.4 581.4C212.1 580.0 207.1 575.8 205.1 573.8C203.1 571.8 199.1 566.7 197.5 564.5C195.9 562.3 193.1 557.2 191.5 554.8C189.9 552.4 185.7 547.0 183.9 544.2C182.1 541.4 178.1 534.2 176.3 530.7C174.5 527.2 170.3 517.7 168.7 513.8C167.1 509.9 164.1 500.8 162.8 496.9C161.5 493.0 158.7 484.1 157.7 480.0C156.7 475.9 155.4 466.4 154.3 461.5C153.2 456.6 149.4 444.0 147.9 437.9C146.4 431.8 143.2 416.0 141.8 409.4C140.4 402.8 137.1 387.9 135.7 381.0C134.3 374.1 131.0 357.6 129.6 350.5C128.2 343.4 124.6 325.7 123.5 320.0C122.4 314.3 121.6 308.8 120.5 302.0C119.4 295.2 115.6 272.0 114.4 261.3C113.2 250.6 110.8 219.5 110.0 210.0C109.2 200.5 108.2 195.2 107.3 180.0C106.4 164.8 103.6 95.4 102.5 80.0C101.4 64.6 98.0 47.7 98.0 47.7Z" fill="#d9bae2" clip-path="url(#cb)"/>
<g stroke="rgba(0,0,0,0.135)" stroke-width="1.35" fill="none"><line x1="98.0" x2="98.0" y1="18.5" y2="656.5"/><line x1="191.7" x2="191.7" y1="18.5" y2="656.5"/><line x1="284.8" x2="284.8" y1="18.5" y2="656.5"/><line x1="378.3" x2="378.3" y1="18.5" y2="656.5"/><line x1="471.5" x2="471.5" y1="18.5" y2="656.5"/><line x1="564.9" x2="564.9" y1="18.5" y2="656.5"/><line x1="658.3" x2="658.3" y1="18.5" y2="656.5"/><line x1="751.5" x2="751.5" y1="18.5" y2="656.5"/><line y1="621.2" y2="621.2" x1="66.5" x2="756.5"/><line y1="557.4" y2="557.4" x1="66.5" x2="756.5"/><line y1="493.7" y2="493.7" x1="66.5" x2="756.5"/><line y1="430.0" y2="430.0" x1="66.5" x2="756.5"/><line y1="366.3" y2="366.3" x1="66.5" x2="756.5"/><line y1="302.6" y2="302.6" x1="66.5" x2="756.5"/><line y1="238.9" y2="238.9" x1="66.5" x2="756.5"/><line y1="175.1" y2="175.1" x1="66.5" x2="756.5"/><line y1="111.4" y2="111.4" x1="66.5" x2="756.5"/><line y1="47.7" y2="47.7" x1="66.5" x2="756.5"/></g>
<path d="M98.0 47.7C98.0 47.7 101.9 65.1 102.9 72.5C103.9 79.9 105.5 101.7 106.6 111.2C107.7 120.7 111.3 145.8 112.4 153.8C113.5 161.8 115.5 174.8 116.4 180.0C117.3 185.2 119.3 193.6 120.5 198.3C121.7 203.0 125.2 216.0 126.6 220.7C128.0 225.4 131.4 235.3 132.7 239.0C134.0 242.7 136.7 249.6 137.8 252.2C138.9 254.8 141.3 258.1 142.4 261.3C143.5 264.5 145.9 275.1 146.9 279.6C147.9 284.1 150.1 295.3 151.0 300.0C151.9 304.7 153.8 315.8 154.6 320.0C155.4 324.2 157.0 331.8 158.1 336.3C159.2 340.8 162.7 354.1 164.2 358.6C165.7 363.1 169.5 371.3 171.3 374.9C173.1 378.5 177.6 386.7 179.4 389.1C181.2 391.5 186.6 395.2 186.6 395.2C186.6 395.2 190.3 402.1 191.6 405.4C192.9 408.7 196.6 420.8 197.7 423.7C198.8 426.6 200.3 428.7 201.1 430.5C201.9 432.3 203.5 437.0 204.5 439.0C205.5 441.0 208.4 446.3 209.6 448.0C210.8 449.7 213.8 452.6 215.2 453.7C216.6 454.8 220.0 456.6 221.4 457.3C222.8 458.0 225.8 459.0 227.0 459.3C228.2 459.6 231.5 460.1 231.5 460.1C231.5 460.1 233.1 461.9 233.8 462.7C234.5 463.5 236.4 465.9 237.2 467.2C238.0 468.5 239.7 472.3 240.6 473.9C241.5 475.5 243.5 479.1 244.5 480.7C245.5 482.3 247.9 486.3 249.0 487.5C250.1 488.7 252.9 490.4 254.1 491.1C255.3 491.8 258.4 492.9 259.7 493.4C261.0 493.9 264.1 495.0 265.4 495.0C266.7 495.0 269.7 493.8 271.0 493.3C272.3 492.8 276.4 490.4 276.4 490.4C276.4 490.4 280.4 493.7 281.7 494.9C283.0 496.1 286.4 499.9 287.8 501.0C289.2 502.1 292.6 503.8 293.9 504.6C295.2 505.4 297.7 507.2 299.0 507.7C300.3 508.2 303.4 508.5 305.1 508.5C306.8 508.5 311.3 507.9 313.2 507.7C315.1 507.5 321.3 506.5 321.3 506.5C321.3 506.5 326.0 507.8 327.4 508.5C328.8 509.2 332.1 511.5 333.5 512.2C334.9 512.9 337.7 513.8 339.6 514.2C341.5 514.6 347.7 515.6 349.8 515.8C351.9 516.0 356.0 515.8 357.9 515.6C359.8 515.4 366.4 514.4 366.4 514.4C366.4 514.4 372.1 515.2 372.1 515.2C372.1 515.2 376.8 517.7 378.2 518.3C379.6 518.9 382.7 520.3 384.3 520.7C385.9 521.1 389.9 521.7 391.5 521.9C393.1 522.1 396.5 522.2 398.1 522.1C399.7 522.0 403.7 521.2 405.2 520.7C406.7 520.2 410.9 518.2 410.9 518.2C410.9 518.2 416.4 520.8 418.5 521.7C420.6 522.6 426.3 525.1 428.6 525.7C430.9 526.3 435.7 526.9 437.8 526.8C439.9 526.7 444.8 525.7 446.9 525.1C449.0 524.5 455.7 521.7 455.7 521.7C455.7 521.7 459.4 522.6 461.2 523.3C463.0 524.0 469.0 527.1 471.3 527.8C473.6 528.5 478.4 529.2 480.5 529.2C482.6 529.2 487.2 528.8 489.6 528.2C492.0 527.6 500.8 523.7 500.8 523.7C500.8 523.7 504.4 524.1 505.9 524.7C507.4 525.3 511.9 528.1 514.0 528.8C516.1 529.5 521.8 530.4 524.2 530.4C526.6 530.4 531.8 529.9 534.3 529.2C536.8 528.5 545.5 524.8 545.5 524.8C545.5 524.8 548.7 525.3 550.2 525.8C551.7 526.3 556.4 528.9 558.3 529.5C560.2 530.1 564.3 531.0 566.4 531.1C568.5 531.2 574.5 530.9 576.6 530.5C578.7 530.1 583.1 528.5 584.7 527.9C586.3 527.3 590.4 525.6 590.4 525.6C590.4 525.6 594.4 526.5 595.9 527.0C597.4 527.5 601.2 529.5 603.0 530.1C604.8 530.7 609.1 531.8 611.2 531.9C613.3 532.0 619.2 531.5 621.3 531.1C623.4 530.7 627.8 529.1 629.4 528.5C631.0 527.9 635.1 526.2 635.1 526.2C635.1 526.2 639.1 527.4 640.6 527.9C642.1 528.4 645.9 530.4 647.7 530.9C649.5 531.4 653.8 532.4 655.9 532.5C658.0 532.6 663.9 531.9 666.0 531.5C668.1 531.1 672.6 529.7 674.2 529.1C675.8 528.5 679.9 526.5 679.9 526.5C679.9 526.5 683.8 527.6 685.3 528.1C686.8 528.6 690.6 530.6 692.5 531.1C694.4 531.6 699.8 532.8 702.0 532.8C704.2 532.8 709.5 531.5 711.6 531.1C713.7 530.7 718.2 529.5 719.7 529.0C721.2 528.5 724.7 527.1 724.7 527.1" fill="none" stroke="#8a1024" stroke-width="1.45" stroke-linejoin="round"/>
<path d="M98.0 47.7C98.0 47.7 100.5 65.1 101.2 72.5C101.9 79.9 103.5 102.4 104.2 111.2C104.9 120.0 106.5 139.7 107.3 147.7C108.1 155.7 110.1 172.7 110.9 180.0C111.7 187.3 113.6 203.6 114.4 210.5C115.2 217.4 116.7 233.1 117.4 239.0C118.1 244.9 119.5 254.9 120.5 261.3C121.5 267.7 124.5 287.0 125.6 293.8C126.7 300.6 128.4 314.1 129.6 320.0C130.8 325.9 134.2 339.2 135.7 344.4C137.2 349.6 141.1 359.5 142.4 364.7C143.7 369.9 145.7 382.9 146.9 389.1C148.1 395.3 151.6 411.2 153.0 417.6C154.4 424.0 157.9 439.1 159.1 444.0C160.3 448.9 162.5 456.7 163.6 460.0C164.7 463.3 167.4 469.9 168.3 472.2C169.2 474.5 170.4 477.9 171.3 480.0C172.2 482.1 175.1 488.2 176.3 490.1C177.5 492.0 180.2 495.0 181.4 496.1C182.6 497.2 186.5 499.9 186.5 499.9C186.5 499.9 190.1 505.2 191.5 507.0C192.9 508.8 196.6 513.8 198.3 515.5C200.0 517.2 204.0 520.2 205.9 521.4C207.8 522.6 212.4 524.8 214.4 525.6C216.4 526.4 220.7 527.8 222.8 528.2C224.9 528.6 230.4 529.1 232.1 529.4C233.8 529.7 237.2 530.7 237.2 530.7C237.2 530.7 241.6 533.6 243.1 534.4C244.6 535.2 248.2 537.1 249.9 537.6C251.6 538.1 255.6 538.7 257.4 538.6C259.2 538.5 263.6 537.3 265.5 536.7C267.4 536.1 272.2 534.1 273.7 533.7C275.2 533.3 278.5 533.0 278.5 533.0C278.5 533.0 281.7 533.5 281.7 533.5C281.7 533.5 286.3 536.5 287.8 537.2C289.3 537.9 293.1 539.0 294.9 539.2C296.7 539.4 301.1 539.3 303.0 539.0C304.9 538.7 309.1 537.6 311.2 536.6C313.3 535.6 321.3 530.1 321.3 530.1C321.3 530.1 326.0 531.8 327.4 532.5C328.8 533.2 331.8 535.4 333.5 536.0C335.2 536.6 339.7 537.8 341.6 538.0C343.5 538.2 347.9 538.0 349.8 537.6C351.7 537.2 356.0 535.5 357.9 534.5C359.8 533.5 366.4 529.0 366.4 529.0C366.4 529.0 370.5 530.4 372.1 531.1C373.7 531.8 378.4 534.3 380.3 534.9C382.2 535.5 386.7 536.5 388.4 536.6C390.1 536.7 393.1 535.9 394.5 535.5C395.9 535.1 398.8 533.9 400.0 533.5C401.2 533.1 403.9 532.3 405.2 531.8C406.5 531.3 410.9 529.4 410.9 529.4C410.9 529.4 414.8 530.2 416.4 530.8C418.0 531.4 422.7 533.7 424.6 534.3C426.5 534.9 430.8 535.8 432.7 535.9C434.6 536.0 438.8 535.7 440.8 535.3C442.8 534.9 448.3 533.2 450.0 532.4C451.7 531.6 455.7 528.8 455.7 528.8C455.7 528.8 459.6 529.5 461.2 530.2C462.8 530.9 467.3 533.7 469.3 534.5C471.3 535.3 476.5 536.7 478.4 536.9C480.3 537.1 483.6 536.4 485.5 535.9C487.4 535.4 492.9 533.8 494.7 532.9C496.5 532.0 500.8 528.4 500.8 528.4C500.8 528.4 505.9 529.4 505.9 529.4C505.9 529.4 512.0 533.1 514.0 533.9C516.0 534.7 521.1 536.4 523.2 536.5C525.3 536.6 530.3 535.4 532.3 534.9C534.3 534.4 539.0 532.9 540.5 532.2C542.0 531.5 545.5 528.5 545.5 528.5C545.5 528.5 548.7 528.9 550.2 529.5C551.7 530.1 556.4 532.7 558.3 533.5C560.2 534.3 564.5 535.8 566.4 536.0C568.3 536.2 572.6 536.0 574.6 535.6C576.6 535.2 581.9 533.4 583.7 532.5C585.5 531.6 590.4 528.1 590.4 528.1C590.4 528.1 594.4 528.9 595.9 529.5C597.4 530.1 601.2 532.7 603.0 533.5C604.8 534.3 609.3 535.8 611.2 536.0C613.1 536.2 617.3 536.0 619.3 535.6C621.3 535.2 626.6 533.4 628.4 532.5C630.2 531.6 635.1 528.1 635.1 528.1C635.1 528.1 639.1 528.9 640.6 529.5C642.1 530.1 645.8 532.7 647.7 533.5C649.6 534.3 655.0 536.0 656.9 536.2C658.8 536.4 662.1 536.0 664.0 535.6C665.9 535.2 671.3 533.4 673.2 532.5C675.1 531.6 679.9 528.0 679.9 528.0C679.9 528.0 683.8 528.8 685.3 529.5C686.8 530.2 690.6 532.8 692.5 533.6C694.4 534.4 699.8 536.2 702.0 536.3C704.2 536.4 709.5 535.2 711.6 534.7C713.7 534.2 718.2 532.8 719.7 532.0C721.2 531.2 724.7 528.2 724.7 528.2" fill="none" stroke="#2a1670" stroke-width="1.45" stroke-linejoin="round"/>
<g stroke="#ff0000" stroke-width="1" shape-rendering="crispEdges"><line x1="276.5" x2="276.5" y1="18.5" y2="656.5"/><line x1="66.5" x2="756.5" y1="461.5" y2="461.5"/></g>
<g stroke="#666" stroke-width="1.15" fill="none"><path d="M57.5 18.5 H66.5 V665" /><path d="M57.5 656.5 H756.5 V665" /><line x1="61" x2="66.5" y1="621.15" y2="621.15" stroke-width="1.75" stroke="#474747"/><line x1="61" x2="66.5" y1="557.44" y2="557.44" stroke-width="1.75" stroke="#474747"/><line x1="61" x2="66.5" y1="493.72" y2="493.72" stroke-width="1.75" stroke="#474747"/><line x1="61" x2="66.5" y1="430.00" y2="430.00" stroke-width="1.75" stroke="#474747"/><line x1="61" x2="66.5" y1="366.28" y2="366.28" stroke-width="1.75" stroke="#474747"/><line x1="61" x2="66.5" y1="302.57" y2="302.57" stroke-width="1.75" stroke="#474747"/><line x1="61" x2="66.5" y1="238.85" y2="238.85" stroke-width="1.75" stroke="#474747"/><line x1="61" x2="66.5" y1="175.13" y2="175.13" stroke-width="1.75" stroke="#474747"/><line x1="61" x2="66.5" y1="111.42" y2="111.42" stroke-width="1.75" stroke="#474747"/><line x1="61" x2="66.5" y1="47.70" y2="47.70" stroke-width="1.75" stroke="#474747"/><line x1="98.0" x2="98.0" y1="656.5" y2="660" stroke-width="1.75" stroke="#474747"/><line x1="191.7" x2="191.7" y1="656.5" y2="660" stroke-width="1.75" stroke="#474747"/><line x1="284.8" x2="284.8" y1="656.5" y2="660" stroke-width="1.75" stroke="#474747"/><line x1="378.3" x2="378.3" y1="656.5" y2="660" stroke-width="1.75" stroke="#474747"/><line x1="471.5" x2="471.5" y1="656.5" y2="660" stroke-width="1.75" stroke="#474747"/><line x1="564.9" x2="564.9" y1="656.5" y2="660" stroke-width="1.75" stroke="#474747"/><line x1="658.3" x2="658.3" y1="656.5" y2="660" stroke-width="1.75" stroke="#474747"/><line x1="751.5" x2="751.5" y1="656.5" y2="660" stroke-width="1.75" stroke="#474747"/></g>
<g font-family="'Liberation Sans', sans-serif" font-size="15.5" fill="#5c5c5c"><text transform="translate(57.7,625.7) scale(1,1)" text-anchor="end">10</text><text transform="translate(57.7,561.9) scale(1,1)" text-anchor="end">20</text><text transform="translate(57.7,498.2) scale(1,1)" text-anchor="end">30</text><text transform="translate(57.7,434.5) scale(1,1)" text-anchor="end">40</text><text transform="translate(57.7,370.8) scale(1,1)" text-anchor="end">50</text><text transform="translate(57.7,307.1) scale(1,1)" text-anchor="end">60</text><text transform="translate(57.7,243.4) scale(1,1)" text-anchor="end">70</text><text transform="translate(57.7,179.6) scale(1,1)" text-anchor="end">80</text><text transform="translate(57.7,115.9) scale(1,1)" text-anchor="end">90</text><text transform="translate(57.7,52.2) scale(1,1)" text-anchor="end">100</text><text transform="translate(98.0,675.6) scale(1,1)" text-anchor="middle">0</text><text transform="translate(191.7,675.6) scale(1,1)" text-anchor="middle">50</text><text transform="translate(284.8,675.6) scale(1,1)" text-anchor="middle">100</text><text transform="translate(378.3,675.6) scale(1,1)" text-anchor="middle">150</text><text transform="translate(471.5,675.6) scale(1,1)" text-anchor="middle">200</text><text transform="translate(564.9,675.6) scale(1,1)" text-anchor="middle">250</text><text transform="translate(658.3,675.6) scale(1,1)" text-anchor="middle">300</text><text transform="translate(751.5,675.6) scale(1,1)" text-anchor="middle">350</text></g>
<text x="391.3" y="700.7" letter-spacing="0.7" font-family="'Liberation Sans', sans-serif" font-size="20" fill="#111">time</text>
<text transform="translate(21,366.6) rotate(-90) scale(0.79,1)" text-anchor="middle" font-family="'Liberation Sans', sans-serif" font-size="19.5" fill="#111">R</text>
</svg>
<div id="legend">
  <span class="sw" style="left:8px;top:16.7px;width:37px;height:2.2px;background:#000"></span>
  <span class="lbl" style="left:53px;top:9.5px">Median over individuals</span>
  <span class="lbl" style="left:8px;top:41px;font-weight:bold;font-size:16px">Groups</span>
  <span class="sw" style="left:23px;top:69px;width:37px;height:19.6px;background:#e0163e"></span>
  <span class="lbl" style="left:68px;top:71.2px">Group_noLoading</span>
  <span class="sw" style="left:23px;top:91px;width:37px;height:20.6px;background:#491dc8"></span>
  <span class="lbl" style="left:68px;top:93.8px;letter-spacing:0.13px">Group_withLoading</span>
  <span class="sw" style="left:7.4px;top:147.2px;width:37.4px;height:59.6px;background:#999"></span>
  <span class="lbl" style="left:53px;top:140.7px;font-size:16.6px">95</span>
  <span class="lbl" style="left:53px;top:170.7px;font-size:16.6px">50</span>
  <span class="lbl" style="left:53px;top:200.7px;font-size:16.6px">5</span>
</div>
</body>
</html>
